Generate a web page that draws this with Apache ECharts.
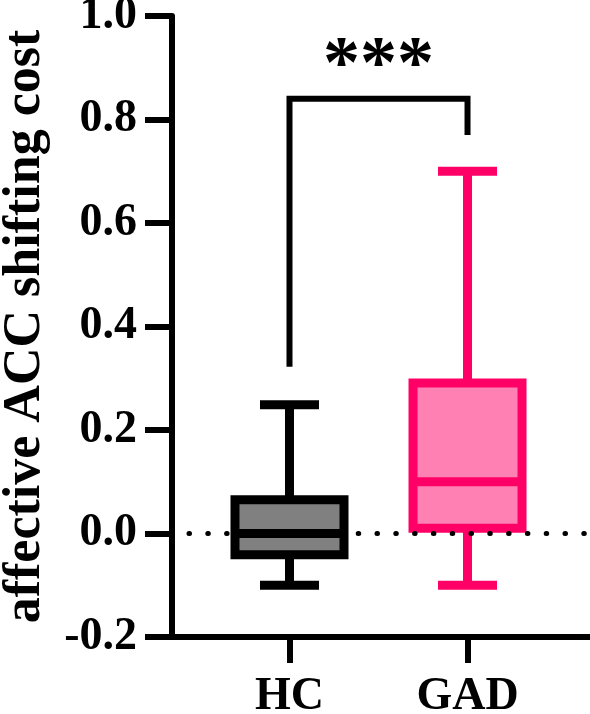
<!DOCTYPE html>
<html>
<head>
<meta charset="utf-8">
<script src="https://cdn.jsdelivr.net/npm/echarts@6/dist/echarts.min.js"></script>
<style>
html,body{margin:0;padding:0;background:#fff;}
#chart_main{width:590px;height:714px;}
</style>
</head>
<body>
<div id="chart_main"></div>
<script type="text/javascript">
// groups and box-plot summary values
var categories = ['HC', 'GAD'];
var whiskerLow = [-0.100, -0.100];
var q1 = [-0.041, 0.010];
var median = [0.000, 0.100];
var q3 = [0.065, 0.291];
var whiskerHigh = [0.249, 0.700];

// y ticks
var yTicks = [-0.2, 0.0, 0.2, 0.4, 0.6, 0.8, 1.0];

// significance bracket HC vs GAD
var sigFrom = 1, sigTo = 2;
var sigTop = 0.840;
var sigEnds = [0.322, 0.770];
var sigLabel = '***';

var strokeColors = ['#000000', '#ff0066'];
var fillColors = ['#808080', '#ff80b3'];
var FONT = '"Liberation Serif", "Times New Roman", serif';

var boxData = categories.map(function(c, i){
	return [i + 1, whiskerLow[i], q1[i], median[i], q3[i], whiskerHigh[i]];
});

function renderBox(params, api){
	var x = api.value(0);
	var lo = api.coord([x, api.value(1)]);
	var b1 = api.coord([x, api.value(2)]);
	var md = api.coord([x, api.value(3)]);
	var b3 = api.coord([x, api.value(4)]);
	var hi = api.coord([x, api.value(5)]);
	var i = params.dataIndex;
	var cx = lo[0];
	var halfBox = 54.5, halfCap = 29.5;
	var ls = {stroke: strokeColors[i], lineWidth: 9, lineCap: 'butt'};
	return {type: 'group', children: [
		{type: 'line', shape: {x1: cx, y1: hi[1], x2: cx, y2: b3[1]}, style: ls},
		{type: 'line', shape: {x1: cx, y1: lo[1], x2: cx, y2: b1[1]}, style: ls},
		{type: 'line', shape: {x1: cx - halfCap, y1: hi[1], x2: cx + halfCap, y2: hi[1]}, style: ls},
		{type: 'line', shape: {x1: cx - halfCap, y1: lo[1], x2: cx + halfCap, y2: lo[1]}, style: ls},
		{type: 'rect', shape: {x: cx - halfBox, y: b3[1], width: halfBox * 2, height: b1[1] - b3[1]},
			style: {fill: fillColors[i], stroke: strokeColors[i], lineWidth: 9, lineJoin: 'miter'}},
		{type: 'line', shape: {x1: cx - halfBox, y1: md[1], x2: cx + halfBox, y2: md[1]}, style: ls}
	]};
}

function renderSig(params, api){
	var p1 = api.coord([api.value(0), api.value(3)]);
	var p2 = api.coord([api.value(0), api.value(2)]);
	var p3 = api.coord([api.value(1), api.value(2)]);
	var p4 = api.coord([api.value(1), api.value(4)]);
	return {type: 'group', children: [
		{type: 'polyline', shape: {points: [p1, p2, p3, p4]},
			style: {stroke: '#000', lineWidth: 6, fill: null, lineJoin: 'miter', lineCap: 'butt'}},
		{type: 'text', style: {text: sigLabel, x: (p2[0] + p3[0]) / 2, y: p2[1] - 31,
			align: 'center', verticalAlign: 'middle', fill: '#000',
			font: 'bold 74px ' + FONT}}
	]};
}

var myChart = echarts.init(document.getElementById('chart_main'));
var option = {
	animation: false,
	backgroundColor: '#fff',
	grid: {left: 172, right: 0, top: 16, bottom: 77, outerBoundsMode: 'none', containLabel: false},
	xAxis: {
		type: 'value', min: 0.34, max: 2.688,
		axisLine: {onZero: false, lineStyle: {color: '#000', width: 6}},
		axisTick: {show: true, customValues: [1, 2], length: 26, lineStyle: {color: '#000', width: 6}},
		axisLabel: {show: true, customValues: [1, 2], margin: 37,
			formatter: function(v){ return categories[Math.round(v) - 1] || ''; },
			color: '#000', fontFamily: FONT, fontWeight: 'bold', fontSize: 46},
		splitLine: {show: false}
	},
	yAxis: {
		type: 'value', min: yTicks[0], max: yTicks[yTicks.length - 1], interval: 0.2,
		name: 'affective ACC shifting cost', nameLocation: 'middle', nameGap: 120, nameRotate: 90,
		nameTextStyle: {color: '#000', fontFamily: FONT, fontWeight: 'bold', fontSize: 52},
		axisLine: {show: true, onZero: false, lineStyle: {color: '#000', width: 6}},
		axisTick: {show: true, length: 27, lineStyle: {color: '#000', width: 6}},
		axisLabel: {margin: 35, color: '#000', fontFamily: FONT, fontWeight: 'bold', fontSize: 46,
			formatter: function(v){ return v.toFixed(1); }},
		splitLine: {show: false}
	},
	series: [
		{
			type: 'custom', renderItem: renderBox, data: boxData, z: 2,
			markLine: {
				silent: true, symbol: ['none', 'none'], label: {show: false},
				lineStyle: {color: '#000', width: 5, type: [0.5, 18.3], cap: 'round', dashOffset: 1.8},
				data: [{yAxis: 0}]
			}
		},
		{
			type: 'custom', renderItem: renderSig, z: 3,
			data: [[sigFrom, sigTo, sigTop, sigEnds[0], sigEnds[1]]]
		}
	]
};
myChart.setOption(option);
</script>
</body>
</html>
